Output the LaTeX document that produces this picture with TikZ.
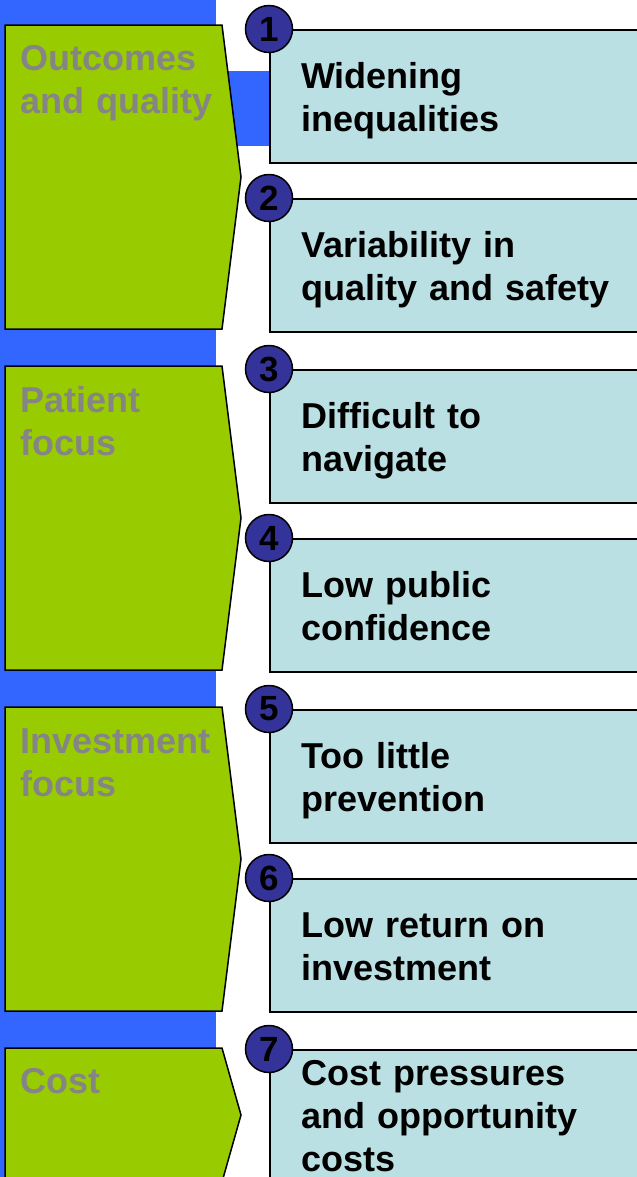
\documentclass[tikz,border=0pt]{standalone}
\usepackage{fontspec}
\setmainfont{Liberation Sans}
\usetikzlibrary{positioning,calc}
\definecolor{stripblue}{HTML}{3366FF}
\definecolor{leafgreen}{HTML}{99CC00}
\definecolor{paleteal}{HTML}{BBE0E3}
\definecolor{dotblue}{HTML}{333399}
\definecolor{labelgray}{HTML}{858585}

\begin{document}
\begin{tikzpicture}[x=1bp,y=-1bp,
  area/.style={fill=leafgreen,draw=black,line width=1.5bp,line join=miter},
  arealabel/.style={anchor=base west,inner sep=0,text width=205bp,align=left,
    text=labelgray,font=\fontsize{36bp}{43bp}\selectfont\bfseries},
  probbox/.style={anchor=north west,fill=paleteal,draw=black,line width=1.5bp,
    minimum width=420bp,minimum height=133bp,inner sep=0},
  probtext/.style={anchor=base west,inner sep=0,text width=330bp,align=left,
    font=\fontsize{36bp}{43bp}\selectfont\bfseries},
  numdot/.style={circle,fill=dotblue,draw=black,line width=1.5bp,minimum size=47bp,
    inner sep=0,font=\fontsize{35bp}{35bp}\selectfont\bfseries}]
  \useasboundingbox (0,0) rectangle (637,1177);
  \clip (0,0) rectangle (637,1177);
  % Blue strip and bar
  \fill[stripblue] (0,0) rectangle (216,1177);
  \fill[stripblue] (216,71) rectangle (280,146);
  % Green areas
  \draw[area] (5,25) -- (222,25) -- (241,177) -- (222,329) -- (5,329) -- cycle;
  \draw[area] (5,366) -- (222,366) -- (241,518) -- (222,670) -- (5,670) -- cycle;
  \draw[area] (5,707) -- (222,707) -- (241,859) -- (222,1011) -- (5,1011) -- cycle;
  \draw[area] (5,1048) -- (222,1048) -- (241,1115) -- (222,1182) -- (5,1182) -- cycle;
  \node[arealabel] (g1) at (20,70) {Outcomes\\and quality};
  \node[arealabel] (g2) at (20,412) {Patient\\focus};
  \node[arealabel] (g3) at (20,753) {Investment\\focus};
  \node[arealabel] (g4) at (20,1093) {Cost};
  % Problem boxes
  \node[probbox] (b1) at (269,29) {};
  \node[probbox] (b2) at (269,198) {};
  \node[probbox] (b3) at (269,369) {};
  \node[probbox] (b4) at (269,538) {};
  \node[probbox] (b5) at (269,709) {};
  \node[probbox] (b6) at (269,878) {};
  \node[probbox] (b7) at (269,1049) {};
  \node[probtext] (t1) at ($(b1.north west)+(32,59)$) {Widening\\inequalities};
  \node[probtext] (t2) at ($(b2.north west)+(32,59)$) {Variability in\\quality and safety};
  \node[probtext] (t3) at ($(b3.north west)+(32,59)$) {Difficult to\\navigate};
  \node[probtext] (t4) at ($(b4.north west)+(32,59)$) {Low public\\confidence};
  \node[probtext] (t5) at ($(b5.north west)+(32,59)$) {Too little\\prevention};
  \node[probtext] (t6) at ($(b6.north west)+(32,59)$) {Low return on\\investment};
  \node[probtext] (t7) at ($(b7.north west)+(32,36)$) {Cost pressures\\and opportunity\\costs};
  % Numbers
  \node[numdot] (n1) at (b1.north west) {1};
  \node[numdot] (n2) at (b2.north west) {2};
  \node[numdot] (n3) at (b3.north west) {3};
  \node[numdot] (n4) at (b4.north west) {4};
  \node[numdot] (n5) at (b5.north west) {5};
  \node[numdot] (n6) at (b6.north west) {6};
  \node[numdot] (n7) at (b7.north west) {7};
\end{tikzpicture}
\end{document}
